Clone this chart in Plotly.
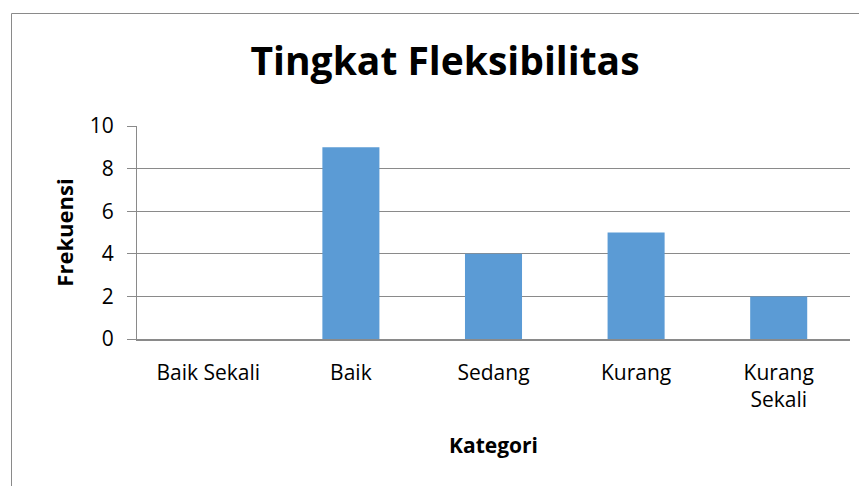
import plotly.graph_objects as go

categories = ["Baik Sekali", "Baik", "Sedang", "Kurang", "Kurang<br>Sekali"]
values = [0, 9, 4, 5, 2]
y_ticks = [0, 2, 4, 6, 8, 10]

FONT = "Open Sans"
OFF = 8  # page body margin
W, H = 867 - OFF, 486 - OFF
L, T = 137 - OFF, 126 - OFF
R = W - (850 - OFF)
B = H - (339 - OFF)
pw, ph = W - L - R, H - T - B

fig = go.Figure(go.Bar(x=categories, y=values, marker=dict(color="#5B9BD5", line=dict(width=0))))

def px_x(p):
    return (p - OFF - L) / pw

def px_y(p):
    return (H - B - (p - OFF)) / ph

fig.add_shape(type="rect", xref="paper", yref="paper",
              x0=px_x(11.5), x1=px_x(880), y0=px_y(13.5), y1=px_y(500),
              line=dict(color="#8a8a8a", width=1), fillcolor="rgba(0,0,0,0)", layer="below")

fig.update_layout(
    width=W, height=H,
    margin=dict(l=L, r=R, t=T, b=B, pad=0),
    paper_bgcolor="white", plot_bgcolor="white",
    bargap=0.6,
    showlegend=False,
    font=dict(family=FONT, color="black", size=21),
    title=dict(text="<b>Tingkat Fleksibilitas</b>", x=(445 - OFF) / W, xref="container", xanchor="center",
               y=1 - (61 - OFF) / H, yanchor="middle", yref="container",
               font=dict(family=FONT, size=39, color="black")),
    xaxis=dict(showgrid=False, showline=True, linecolor="#8a8a8a", linewidth=1.5,
               ticks="", tickfont=dict(size=21), ticklabelstandoff=14,
               title=dict(text="<b>Kategori</b>", font=dict(size=21), standoff=26)),
    yaxis=dict(range=[0, 10], tickvals=y_ticks, showgrid=True, gridcolor="#8a8a8a", gridwidth=1,
               showline=True, linecolor="#8a8a8a", linewidth=1,
               ticks="outside", ticklen=9, tickcolor="#8a8a8a", ticklabelstandoff=9,
               tickfont=dict(size=21), zeroline=False,
               title=dict(text="<b>Frekuensi</b>", font=dict(size=22), standoff=10)),
)

fig.write_html("out.html")
